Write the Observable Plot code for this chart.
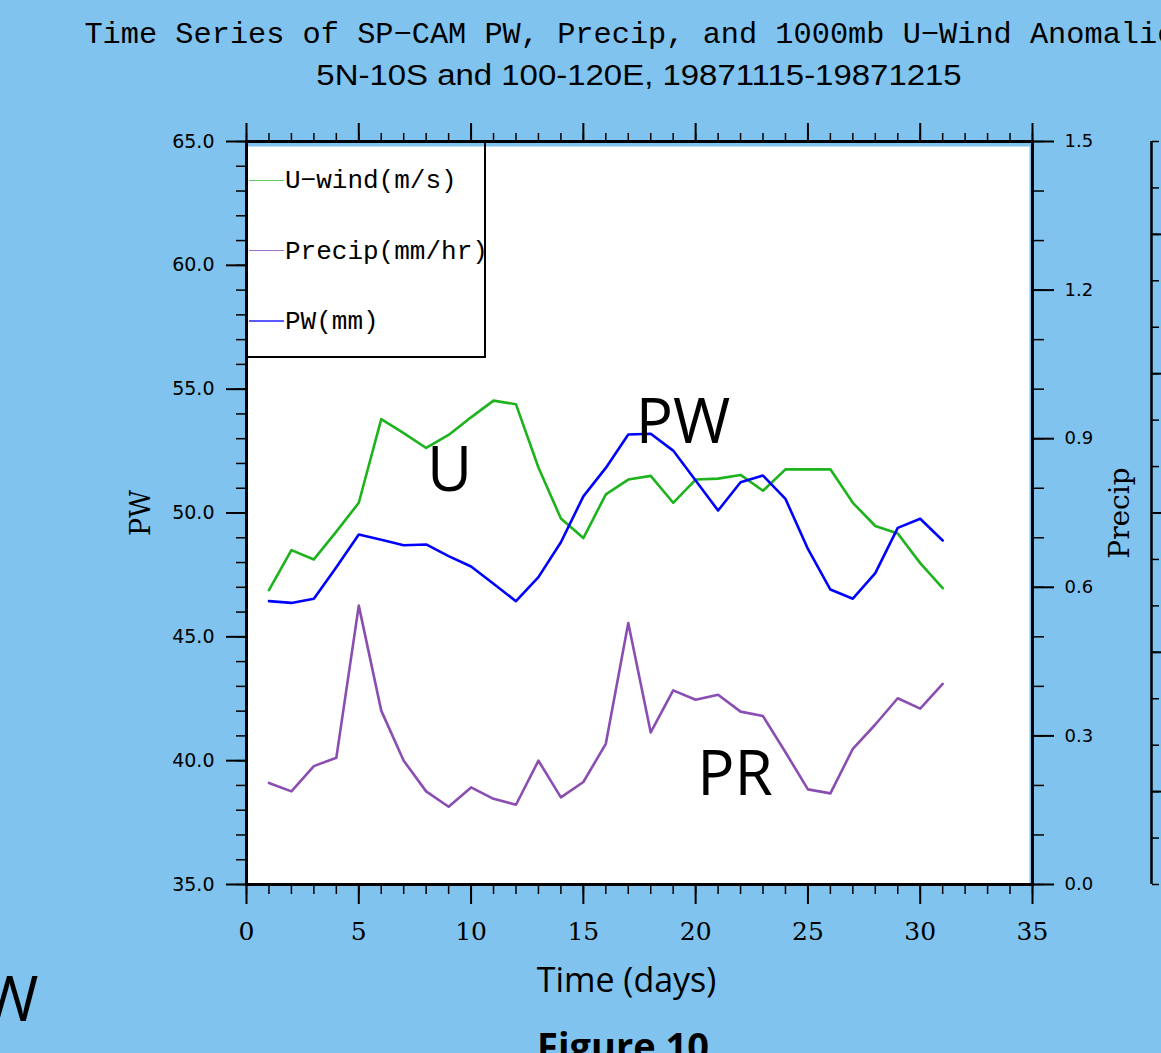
<!DOCTYPE html>
<html>
<head>
<meta charset="utf-8">
<script src="https://cdn.jsdelivr.net/npm/d3@7"></script>
<script src="https://cdn.jsdelivr.net/npm/@observablehq/plot@0.6"></script>
<style>
html,body{margin:0;padding:0;background:#7fc3ee;overflow:hidden;}
#wrap{position:relative;width:1161px;height:1053px;overflow:hidden;}
#header{position:relative;height:100px;}
.t1{position:absolute;left:0;width:1278px;top:20px;text-align:center;font-family:"Liberation Mono",monospace;font-size:30px;line-height:30px;white-space:nowrap;color:#000;transform:scaleX(1.01);}
.t2{position:absolute;left:0;width:1278px;top:61px;text-align:center;font-family:"Liberation Sans",Arial,sans-serif;font-size:29px;line-height:29px;white-space:nowrap;color:#000;transform:scaleX(1.136);}
#chart svg{display:block;}
#legend{position:absolute;left:246px;top:141px;width:238px;height:215px;border-right:2px solid #000;border-bottom:2px solid #000;z-index:2;}
.lgline{position:absolute;left:3px;width:35px;height:1.5px;}
.lgtext{position:absolute;left:39px;font-family:"Liberation Mono",monospace;font-size:26px;line-height:26px;white-space:nowrap;color:#000;}
.fig{position:absolute;left:0;width:1246px;top:1026px;text-align:center;font-family:"Open Sans",sans-serif;font-weight:700;font-size:38px;line-height:38px;white-space:nowrap;}
.wpart{position:absolute;left:-56px;top:966px;font-family:"Open Sans",sans-serif;font-size:62px;line-height:62px;white-space:nowrap;}
</style>
</head>
<body>
<div id="wrap">
  <div id="header">
    <div class="t1">Time Series of SP−CAM PW, Precip, and 1000mb U−Wind Anomalies</div>
    <div class="t2">5N-10S and 100-120E, 19871115-19871215</div>
  </div>
  <div id="chart"></div>
  <div id="legend"></div>
  <div class="wpart">PW</div>
  <div class="fig">Figure 10</div>
</div>
<script>
// ---- data ----
const days = [1,2,3,4,5,6,7,8,9,10,11,12,13,14,15,16,17,18,19,20,21,22,23,24,25,26,27,28,29,30,31];
const pwValues = [46.44,46.37,46.54,47.81,49.13,48.92,48.70,48.73,48.26,47.84,47.14,46.44,47.41,48.82,50.67,51.82,53.17,53.20,52.52,51.31,50.10,51.24,51.51,50.57,48.55,46.91,46.54,47.57,49.40,49.77,48.89];
const precipValues = [0.205,0.188,0.239,0.256,0.563,0.351,0.250,0.188,0.157,0.196,0.173,0.161,0.250,0.176,0.207,0.284,0.528,0.307,0.392,0.373,0.383,0.349,0.340,0.267,0.192,0.184,0.274,0.323,0.376,0.355,0.405];
const uwindValues = [-0.83,-0.40,-0.50,-0.20,0.11,1.01,0.86,0.70,0.84,1.03,1.21,1.17,0.49,-0.06,-0.27,0.20,0.36,0.40,0.11,0.36,0.37,0.41,0.24,0.47,0.47,0.47,0.11,-0.14,-0.22,-0.54,-0.81];

const xMajorTicks = [0,5,10,15,20,25,30,35];
const xMinorTicks = [0,1,2,3,4,5,6,7,8,9,10,11,12,13,14,15,16,17,18,19,20,21,22,23,24,25,26,27,28,29,30,31,32,33,34,35];
const pwMajorTicks = [35,40,45,50,55,60,65];
const pwMinorTicks = [35,36,37,38,39,40,41,42,43,44,45,46,47,48,49,50,51,52,53,54,55,56,57,58,59,60,61,62,63,64,65];
const precipMajorTicks = [0,0.3,0.6,0.9,1.2,1.5];
const precipMinorTicks = [0,0.1,0.2,0.3,0.4,0.5,0.6,0.7,0.8,0.9,1.0,1.1,1.2,1.3,1.4,1.5];
const uMajorTicks = [-3,-1.5,0,1.5,3];
const uMinorTicks = [-4,-3.5,-3,-2.5,-2,-1.5,-1,-0.5,0,0.5,1,1.5,2,2.5,3,3.5,4];

const seriesNames = ["U−wind(m/s)","Precip(mm/hr)","PW(mm)"];
const seriesColors = ["#1db31d","#8a4eb3","#0000ff"];
const legendLineColors = ["#5ccc5c","#a070c8","#5a5aff"];

const annotLabels = ["U","PW","PR"];
const annotDays = [9.04,19.44,21.75];
const annotValues = [51.70,53.61,39.40];

// secondary axes mapped onto the PW (35–65) scale
const PW_MIN = 35, PW_MAX = 65;
const PRECIP_MAX = 1.5, U_MIN = -4, U_MAX = 4;
const precipToPW = p => PW_MIN + p * (PW_MAX - PW_MIN) / PRECIP_MAX;
const pwToPrecip = v => (v - PW_MIN) * PRECIP_MAX / (PW_MAX - PW_MIN);
const uToPW = u => PW_MIN + (u - U_MIN) * (PW_MAX - PW_MIN) / (U_MAX - U_MIN);

const rows = days.map((d, i) => ({day: d, pw: pwValues[i], precip: precipToPW(precipValues[i]), u: uToPW(uwindValues[i])}));
const annots = annotLabels.map((t, i) => ({t, day: annotDays[i], v: annotValues[i]}));

const chart = Plot.plot({
  width: 1161,
  height: 953,
  marginTop: 41,
  marginBottom: 169,
  marginLeft: 246,
  marginRight: 129,
  style: {background: "transparent", overflow: "visible"},
  x: {domain: [0, 35]},
  y: {domain: [PW_MIN, PW_MAX]},
  marks: [
    Plot.frame({fill: "white", insetTop: 5, insetRight: 3}),
    Plot.line(rows, {x: "day", y: "u", stroke: seriesColors[0], strokeWidth: 2.6}),
    Plot.line(rows, {x: "day", y: "pw", stroke: seriesColors[2], strokeWidth: 2.6}),
    Plot.line(rows, {x: "day", y: "precip", stroke: seriesColors[1], strokeWidth: 2.6}),
    Plot.text(annots, {x: "day", y: "v", text: "t", fontFamily: "Open Sans", fontSize: 62, fill: "black"}),
    Plot.frame({stroke: "black", strokeWidth: 3}),
    // bottom x axis
    Plot.axisX({anchor: "bottom", ticks: xMinorTicks, tickSize: 10, strokeWidth: 1.5, tickFormat: () => "", label: null}),
    Plot.axisX({anchor: "bottom", ticks: xMajorTicks, tickSize: 20, tickPadding: 18, strokeWidth: 2, tickFormat: d => String(d), fontFamily: "DejaVu Serif", fontSize: 25, label: null}),
    // top x axis
    Plot.axisX({anchor: "top", ticks: xMinorTicks, tickSize: 9, strokeWidth: 1.5, tickFormat: () => "", label: null}),
    Plot.axisX({anchor: "top", ticks: xMajorTicks, tickSize: 19, strokeWidth: 2, tickFormat: () => "", label: null}),
    // left PW axis
    Plot.axisY({anchor: "left", ticks: pwMinorTicks, tickSize: 10, strokeWidth: 1.5, tickFormat: () => "", label: null}),
    Plot.axisY({anchor: "left", ticks: pwMajorTicks, tickSize: 20, tickPadding: 12, strokeWidth: 2, tickFormat: d => d.toFixed(1), fontFamily: "DejaVu Sans", fontSize: 19, label: null}),
    // right precip axis
    Plot.axisY({anchor: "right", ticks: precipMinorTicks.map(precipToPW), tickSize: 11, strokeWidth: 1.5, tickFormat: () => "", label: null}),
    Plot.axisY({anchor: "right", ticks: precipMajorTicks.map(precipToPW), tickSize: 21, tickPadding: 11, strokeWidth: 2, tickFormat: d => pwToPrecip(d).toFixed(1), fontFamily: "DejaVu Sans", fontSize: 18, label: null}),
    // third (U-wind) axis, offset to the right; its labels fall outside the picture
    Plot.ruleX([35], {dx: 119, strokeWidth: 2.5}),
    Plot.axisY({anchor: "right", dx: 119, ticks: uMinorTicks.map(uToPW), tickSize: 7, strokeWidth: 1.5, tickFormat: () => "", label: null}),
    Plot.axisY({anchor: "right", dx: 119, ticks: uMajorTicks.map(uToPW), tickSize: 14, strokeWidth: 2, tickFormat: () => "", label: null}),
    // axis titles
    Plot.text(["PW"], {frameAnchor: "left", textAnchor: "middle", dx: -105, rotate: -90, fontFamily: "DejaVu Serif", fontSize: 27, fill: "black"}),
    Plot.text(["Precip"], {frameAnchor: "right", textAnchor: "middle", dx: 88, rotate: -90, fontFamily: "DejaVu Serif", fontSize: 28, fill: "black"}),
    Plot.text(["Time (days)"], {frameAnchor: "bottom", textAnchor: "middle", dx: -13, dy: 107, fontFamily: "Open Sans", fontSize: 34, fill: "black"})
  ]
});
document.getElementById("chart").appendChild(chart);

// legend (inside plot, top-left)
const legend = d3.select("#legend");
seriesNames.forEach((name, i) => {
  legend.append("div").attr("class", "lgline")
    .style("top", (38.5 + 70.3 * i) + "px")
    .style("background", legendLineColors[i]);
  legend.append("div").attr("class", "lgtext")
    .style("top", (27.3 + 70.3 * i) + "px")
    .text(name);
});
</script>
</body>
</html>
